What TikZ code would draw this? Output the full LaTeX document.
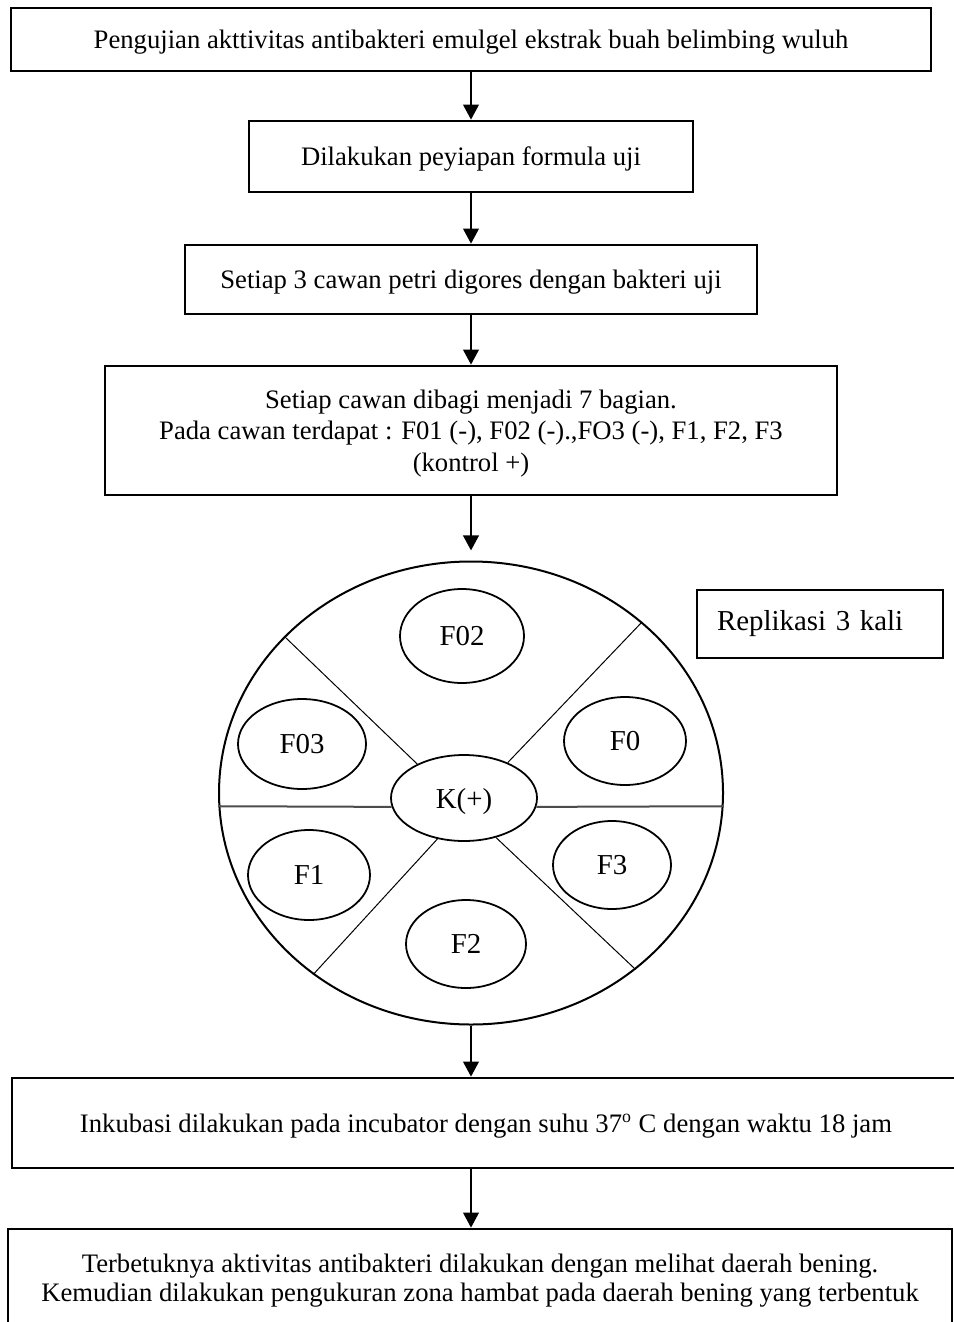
\documentclass[tikz,border=0pt]{standalone}
\usepackage{fontspec}
\setmainfont{Liberation Serif}
\usetikzlibrary{shapes.geometric,arrows.meta}

\def\pxu{0.45pt}
\tikzset{
  stepbox/.style={draw,rectangle,line width=1.2pt,align=center,inner sep=0pt,
    text depth=0pt,font=\fontsize{12}{14.2}\selectfont},
  dish/.style={draw,ellipse,line width=0.9pt,inner sep=0pt},
  spot/.style={draw,ellipse,line width=0.8pt,inner sep=0pt,text depth=0pt,
    font=\fontsize{13}{15}\selectfont},
  divide/.style={line width=0.45pt},
  flow/.style={->,>={Triangle[length=6.8pt,width=7pt]},line width=1.1pt}
}

\begin{document}
\begin{tikzpicture}[x=0.45pt,y=-0.45pt]
  \useasboundingbox (0,0) rectangle (954,1322);
  % steps
  \node[stepbox,minimum width=920*\pxu,minimum height=63*\pxu] (uji) at (471,39.5)
    {Pengujian akttivitas antibakteri emulgel ekstrak buah belimbing wuluh};
  \node[stepbox,minimum width=444*\pxu,minimum height=71*\pxu] (prep) at (471,156.5)
    {Dilakukan peyiapan formula uji};
  \node[stepbox,minimum width=572*\pxu,minimum height=69*\pxu] (gores) at (471,279.5)
    {Setiap 3 cawan petri digores dengan bakteri uji};
  \node[stepbox,minimum width=732*\pxu,minimum height=129*\pxu] (bagi) at (471,430.5)
    {Setiap cawan dibagi menjadi 7 bagian.\\
     Pada cawan terdapat : F01 (-), F02 (-).,FO3 (-), F1, F2, F3\\
     (kontrol +)};
  % petri dish
  \node[dish,minimum width=504*\pxu,minimum height=463*\pxu] (cawan) at (471,793) {};
  \node[spot,minimum width=124*\pxu,minimum height=94*\pxu] (f02) at (462,636) {F02};
  \node[spot,minimum width=128*\pxu,minimum height=90*\pxu] (f03) at (302,744) {F03};
  \node[spot,minimum width=122*\pxu,minimum height=88*\pxu] (f0) at (625,741) {F0};
  \node[spot,minimum width=146*\pxu,minimum height=86*\pxu] (kp) at (464,798) {K(+)};
  \node[spot,minimum width=122*\pxu,minimum height=90*\pxu] (f1) at (309,875) {F1};
  \node[spot,minimum width=118*\pxu,minimum height=88*\pxu] (f3) at (612,865) {F3};
  \node[spot,minimum width=120*\pxu,minimum height=88*\pxu] (f2) at (466,944) {F2};
  \draw[divide] (cawan.140) -- (kp.144);
  \draw[divide] (cawan.45) -- (kp.39);
  \draw[divide] (cawan.229) -- (kp.237);
  \draw[divide] (cawan.313) -- (kp.309);
  \draw[line width=0.9pt,black!70] (cawan.183) -- (kp.187);
  \draw[line width=0.9pt,black!70] (cawan.357) -- (kp.353);
  \node[draw,line width=0.5pt,minimum height=68*\pxu,text width=206*\pxu,
    inner xsep=20*\pxu,align=left,font=\fontsize{13}{15}\selectfont] (rep) at (820,624)
    {Replikasi 3 kali};
  % incubation and result
  \node[stepbox,minimum width=948*\pxu,minimum height=90*\pxu] (inkubasi) at (486,1123)
    {Inkubasi dilakukan pada incubator dengan suhu 37\textsuperscript{o} C dengan waktu 18 jam};
  \node[stepbox,minimum width=944*\pxu,minimum height=98*\pxu,
    font=\fontsize{12}{13}\selectfont] (hasil) at (480,1278)
    {Terbetuknya aktivitas antibakteri dilakukan dengan melihat daerah bening.\\
     Kemudian dilakukan pengukuran zona hambat pada daerah bening yang terbentuk};
  % arrows
  \draw[flow] (uji) -- (prep);
  \draw[flow] (prep) -- (gores);
  \draw[flow] (gores) -- (bagi);
  \draw[flow,shorten >=4.5pt] (bagi) -- (cawan);
  \draw[flow] (cawan.south) -- (inkubasi.north -| cawan.south);
  \draw[flow] (inkubasi.south -| cawan.south) -- (hasil.north -| cawan.south);
\end{tikzpicture}
\end{document}
